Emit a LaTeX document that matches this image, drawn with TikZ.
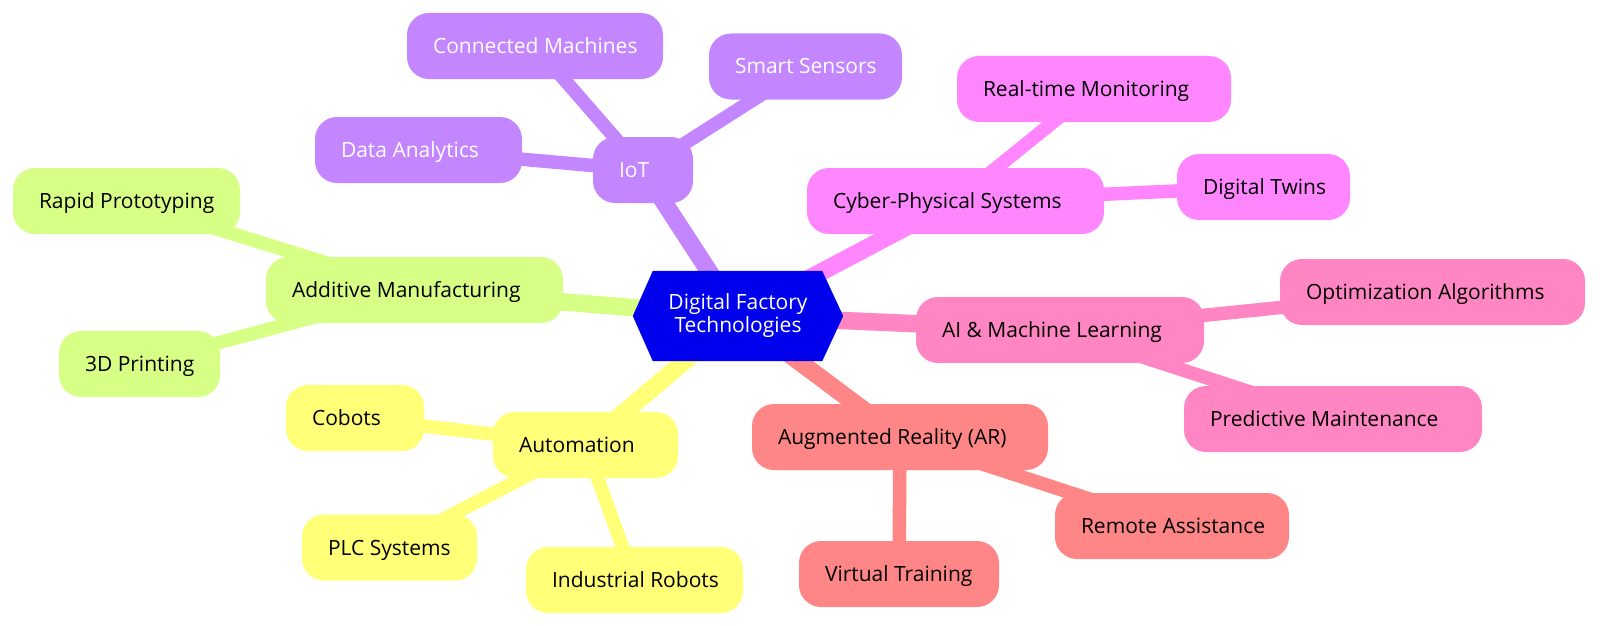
\documentclass[tikz,border=0pt]{standalone}
\usepackage{fontspec}
\setmainfont{Open Sans}
\definecolor{cRoot}{HTML}{0000EC}
\definecolor{cIoT}{HTML}{C386FF}
\definecolor{cCPS}{HTML}{FF86FF}
\definecolor{cAI}{HTML}{FF86C3}
\definecolor{cAR}{HTML}{FF8686}
\definecolor{cAuto}{HTML}{FFFF78}
\definecolor{cAdd}{HTML}{D7FF86}
\pgfdeclarelayer{bgl}
\pgfdeclarelayer{edges}
\pgfdeclarelayer{hexl}
\pgfsetlayers{bgl,edges,hexl,main}
\newcommand{\lbl}[2]{\makebox[#1][l]{#2}}
\tikzset{
  mm/.style={rounded corners=22pt, minimum height=66pt, inner xsep=26pt, inner ysep=0pt,
    text height=15pt, text depth=0pt, font=\fontsize{21}{25}\selectfont},
  rootedge/.style={line width=17.5pt},
  childedge/.style={line width=13.5pt},
}
\begin{document}
\begin{tikzpicture}[x=1pt,y=-1pt]
\begin{pgfonlayer}{bgl}
\fill[white] (0,0) rectangle (1600,626);
\end{pgfonlayer}
\useasboundingbox (0,0) rectangle (1600,626);

\node[minimum width=210pt, minimum height=90pt, inner sep=0pt, align=center, text=white,
  font=\fontsize{21}{23}\selectfont] (root) at (738,316) {Digital Factory\\Technologies};

% IoT
\node[mm, fill=cIoT, text=white] (iot) at (643,170) {\lbl{48pt}{IoT}};
\node[mm, fill=cIoT, text=white] (cm) at (535,46) {\lbl{204pt}{Connected Machines}};
\node[mm, fill=cIoT, text=white] (da) at (418.5,150) {\lbl{155pt}{Data Analytics}};
\node[mm, fill=cIoT, text=white] (ss) at (805.5,66.5) {\lbl{141pt}{Smart Sensors}};
% CPS
\node[mm, fill=cCPS] (cps) at (955.5,201) {\lbl{245pt}{Cyber-Physical Systems}};
\node[mm, fill=cCPS] (rtm) at (1094,89) {\lbl{222pt}{Real-time Monitoring}};
\node[mm, fill=cCPS] (dt) at (1263.5,187) {\lbl{121pt}{Digital Twins}};
% AI
\node[mm, fill=cAI] (ai) at (1060,330) {\lbl{236pt}{AI \& Machine Learning}};
\node[mm, fill=cAI] (oa) at (1432.5,292) {\lbl{253pt}{Optimization Algorithms}};
\node[mm, fill=cAI] (pm) at (1333,419) {\lbl{246pt}{Predictive Maintenance}};
% AR
\node[mm, fill=cAR] (ar) at (900,437) {\lbl{244pt}{Augmented Reality (AR)}};
\node[mm, fill=cAR] (ra) at (1172,526) {\lbl{182pt}{Remote Assistance}};
\node[mm, fill=cAR] (vt) at (899,574) {\lbl{148pt}{Virtual Training}};
% Automation
\node[mm, fill=cAuto] (au) at (585.5,445) {\lbl{133pt}{Automation}};
\node[mm, fill=cAuto] (cb) at (355,418) {\lbl{86pt}{Cobots}};
\node[mm, fill=cAuto] (plc) at (389.5,547.5) {\lbl{123pt}{PLC Systems}};
\node[mm, fill=cAuto] (ir) at (634.5,580) {\lbl{165pt}{Industrial Robots}};
% Additive
\node[mm, fill=cAdd] (am) at (414.5,290) {\lbl{245pt}{Additive Manufacturing}};
\node[mm, fill=cAdd] (rp) at (126.5,201) {\lbl{175pt}{Rapid Prototyping}};
\node[mm, fill=cAdd] (tdp) at (139.5,364) {\lbl{109pt}{3D Printing}};

\begin{pgfonlayer}{hexl}
\fill[cRoot, yshift=2pt] (root.west) -- ([xshift=20pt]root.north west) -- ([xshift=-21pt]root.north east)
  -- (root.east) -- ([xshift=-21pt]root.south east) -- ([xshift=20pt]root.south west) -- cycle;
\end{pgfonlayer}

\begin{pgfonlayer}{edges}
\draw[rootedge, cIoT] (root.center) -- (iot.center);
\draw[rootedge, cCPS] (root.center) -- (cps.center);
\draw[rootedge, cAI] (root.center) -- (ai.center);
\draw[rootedge, cAR] (root.center) -- (ar.center);
\draw[rootedge, cAuto] (root.center) -- (au.center);
\draw[rootedge, cAdd] (root.center) -- (am.center);
\draw[childedge, cIoT] (iot.center) -- (cm.center);
\draw[childedge, cIoT] (iot.center) -- (da.center);
\draw[childedge, cIoT] (iot.center) -- (ss.center);
\draw[childedge, cCPS] (cps.center) -- (rtm.center);
\draw[childedge, cCPS] (cps.center) -- (dt.center);
\draw[childedge, cAI] (ai.center) -- (oa.center);
\draw[childedge, cAI] (ai.center) -- (pm.center);
\draw[childedge, cAR] (ar.center) -- (ra.center);
\draw[childedge, cAR] (ar.center) -- (vt.center);
\draw[childedge, cAuto] (au.center) -- (cb.center);
\draw[childedge, cAuto] (au.center) -- (plc.center);
\draw[childedge, cAuto] (au.center) -- (ir.center);
\draw[childedge, cAdd] (am.center) -- (rp.center);
\draw[childedge, cAdd] (am.center) -- (tdp.center);
\end{pgfonlayer}
\end{tikzpicture}
\end{document}
